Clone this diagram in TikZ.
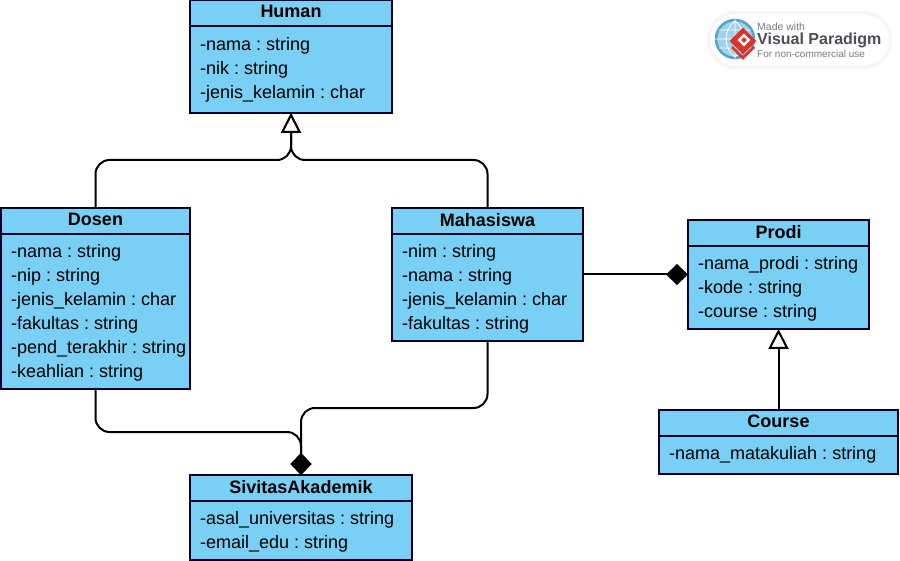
\documentclass[tikz,border=0pt]{standalone}
\usepackage{fontspec}
\setmainfont{Liberation Sans}
\frenchspacing
\usetikzlibrary{arrows.meta}
\colorlet{box edge}{black!85!blue}
\definecolor{box area}{HTML}{7ACFF5}
\definecolor{logo red}{HTML}{D8362A}
\definecolor{logo blue}{HTML}{5FB4DE}
\definecolor{logo text}{HTML}{4A4F55}
% name/left/top/right/bottom/title
\def\classes{human/190/0/392/113/Human, dosen/1/208/190/389/Dosen, mahasiswa/392/208/583/341/Mahasiswa, prodi/688/220/869/329/Prodi, course/659/410/898/474/Course, sivitas/190/475/412/560/SivitasAkademik}
\tikzset{
  classbox/.style={draw=box edge, fill=box area, line width=1.4pt, inner sep=0pt, outer sep=0pt},
  classtitle/.style={font=\fontsize{18}{18}\selectfont\bfseries, inner sep=0pt},
  classattr/.style={font=\fontsize{18}{18}\selectfont, anchor=base west, inner sep=0pt},
  link/.style={draw=black, line width=2pt, rounded corners=14pt},
  inherit/.style={link, -{Triangle[open, fill=white, length=20pt, width=20pt, line width=2pt]}},
  compose/.style={link, -{Diamond[fill=black, length=22pt, width=21pt]}},
  logotext/.style={text=logo text, inner sep=0pt, anchor=base west},
  logomark/.style={fill=logo red, rotate=45, minimum size=19pt, inner sep=0pt}
}

\begin{document}
\begin{tikzpicture}[x=1pt, y=-1pt]
  \useasboundingbox (0,0) rectangle (900,561);

  % The class boxes
  \foreach \name/\l/\t/\r/\b/\title in \classes {
    \node[classbox, minimum width={(\r-\l)*1pt}, minimum height={(\b-\t)*1pt}] (\name) at ({(\l+\r)/2},{(\t+\b)/2}) {};
    \node[classtitle] (\name-title) at ({(\l+\r)/2},\t+11.8) {\title};
    \draw[classbox] (\l,\t+26) -- (\r,\t+26);
  }

  % The attributes
  \foreach \x/\y/\name/\txt in {
    200/50/h1/-nama : string, 200/74/h2/-nik : string, 200/98/h3/-jenis\_kelamin : char,
    11/257/d1/-nama : string, 11/281/d2/-nip : string, 11/305/d3/-jenis\_kelamin : char,
    11/329/d4/-fakultas : string, 11/353/d5/-pend\_terakhir : string, 11/377/d6/-keahlian : string,
    402/257/m1/-nim : string, 402/281/m2/-nama : string, 402/305/m3/-jenis\_kelamin : char, 402/329/m4/-fakultas : string,
    698/269/p1/-nama\_prodi : string, 698/293/p2/-kode : string, 698/317/p3/-course : string,
    669/459/c1/-nama\_matakuliah : string,
    200/524/s1/-asal\_universitas : string, 200/548/s2/-email\_edu : string}
    \node[classattr] (\name) at (\x,\y+0.5) {\txt};

  % The connections between them
  \coordinate (genjoin) at (human.south |- 0,160);
  \coordinate (dosenjoin) at (sivitas.north |- 0,432);
  \coordinate (mhsjoin) at (sivitas.north |- 0,408);
  \draw[inherit] (dosen.north) |- (genjoin) -- (human.south);
  \draw[inherit] (mahasiswa.north) |- (genjoin) -- (human.south);
  \draw[compose] (dosen.south) |- (dosenjoin) -- (sivitas.north);
  \draw[compose] (mahasiswa.south) |- (mhsjoin) -- (sivitas.north);
  \draw[compose] (mahasiswa) -- (prodi);
  \draw[inherit] (course.north) -- (prodi.south);

  % The badge
  \node[draw=black!3, line width=4pt, fill=white, rounded corners=27pt, minimum width=182pt, minimum height=55pt] (badge) at (799.5,40) {};
  \node[circle, draw=logo blue!90!black, line width=2.5pt, fill=logo blue!60, minimum size=38pt, inner sep=0pt] (globe) at (735,39) {};
  \draw[white, line width=.8pt] (globe.west) -- (globe.east) (globe.north) -- (globe.south)
    (735,21) .. controls (723,30) and (723,48) .. (735,57)
    (735,21) .. controls (747,30) and (747,48) .. (735,57)
    (719,30) -- (751,30) (719,48) -- (751,48);
  \draw[logo red, line width=2.5pt] (732,47) -- (743,58) -- (754,47);
  \node[logomark] (mark) at (743,41) {};
  \node[fill=white, rotate=45, minimum size=9pt, inner sep=0pt] (markin) at (744,40) {};
  \node[fill=logo red, rotate=45, minimum size=4pt, inner sep=0pt] (markcore) at (744,40) {};
  \node[logotext, text=logo text!75, font=\fontsize{10.5}{12}\selectfont] (made) at (757,31) {Made with};
  \node[logotext, font=\fontsize{16}{18}\selectfont\bfseries] (vp) at (757,45) {Visual Paradigm};
  \node[logotext, text=logo text!75, font=\fontsize{10}{12}\selectfont] (usage) at (757,58) {For non-commercial use};

\end{tikzpicture}
\end{document}
